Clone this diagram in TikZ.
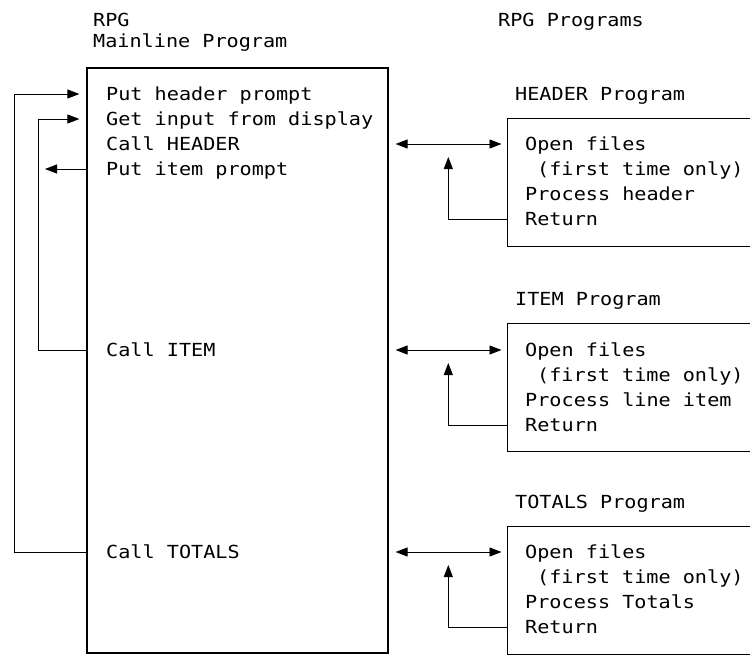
\documentclass[tikz,border=0pt]{standalone}
\usepackage{fontspec}
\setmonofont[FakeStretch=1.12]{DejaVu Sans Mono}
\usetikzlibrary{arrows.meta}
\begin{document}
\begin{tikzpicture}[x=1pt,y=-1pt,
  txt/.style={anchor=base west,inner sep=0pt,font=\ttfamily\fontsize{18}{22}\selectfont},
  box/.style={draw,line width=1.2pt,inner sep=0pt},
  con/.style={line width=0.9pt},
  tip/.tip={Triangle[length=12pt,width=9pt]},
  arr/.style={con,-tip},
  darr/.style={con,tip-tip}]
\clip (0,0) rectangle (750,656);
% boxes
\node[box,minimum width=301pt,minimum height=585pt] (main) at (237.5,360.5) {};
\node[box,minimum width=260pt,minimum height=127.5pt,anchor=north west] (hbox) at (507,118) {};
\node[box,minimum width=260pt,minimum height=127.5pt,anchor=north west] (ibox) at (507,323) {};
\node[box,minimum width=260pt,minimum height=127.5pt,anchor=north west] (tbox) at (507,526) {};
% headings
\node[txt] (rpg) at (93,26) {RPG};
\node[txt] (mainline) at (93,47) {Mainline Program};
\node[txt] (rpgprogs) at (498,26) {RPG Programs};
% mainline text
\node[txt] (m1) at (106,100) {Put header prompt};
\node[txt] (m2) at (106,125) {Get input from display};
\node[txt] (m3) at (106,150) {Call HEADER};
\node[txt] (m4) at (106,175) {Put item prompt};
\node[txt] (m5) at (106,356) {Call ITEM};
\node[txt] (m6) at (106,558) {Call TOTALS};
% right titles
\node[txt] (ht) at (515,100) {HEADER Program};
\node[txt] (it) at (515,305) {ITEM Program};
\node[txt] (tt) at (515,508) {TOTALS Program};
% HEADER box text
\node[txt] (h1) at (525,150) {Open files};
\node[txt] (h2) at (537,175) {(first time only)};
\node[txt] (h3) at (525,200) {Process header};
\node[txt] (h4) at (525,225) {Return};
% ITEM box text
\node[txt] (i1) at (525,356) {Open files};
\node[txt] (i2) at (537,381) {(first time only)};
\node[txt] (i3) at (525,406) {Process line item};
\node[txt] (i4) at (525,431) {Return};
% TOTALS box text
\node[txt] (t1) at (525,558) {Open files};
\node[txt] (t2) at (537,583) {(first time only)};
\node[txt] (t3) at (525,608) {Process Totals};
\node[txt] (t4) at (525,633) {Return};
% connector coordinates
\coordinate (L1) at (main.west |- 0,94);
\coordinate (L2) at (main.west |- 0,119);
\coordinate (L3) at (main.west |- 0,169);
\coordinate (L4) at (main.west |- 0,350);
\coordinate (L5) at (main.west |- 0,552);
\coordinate (pitem) at (45,169);
\coordinate (R1) at (main.east |- 0,144);
\coordinate (R2) at (main.east |- 0,350);
\coordinate (R3) at (main.east |- 0,552);
\coordinate (H1) at (hbox.west |- 0,144);
\coordinate (I1) at (ibox.west |- 0,350);
\coordinate (T1) at (tbox.west |- 0,552);
\coordinate (H4) at (hbox.west |- 0,219.5);
\coordinate (I4) at (ibox.west |- 0,425);
\coordinate (T4) at (tbox.west |- 0,627);
\coordinate (Hup) at (448.3,157);
\coordinate (Iup) at (448.3,363);
\coordinate (Tup) at (448.3,565);
% left loops
\draw[arr,shorten >=7pt] (L5) -| (14,94) -- (L1);
\draw[arr,shorten >=7pt] (L4) -| (38,119) -- (L2);
\draw[arr] (L3) -- (pitem);
% calls
\draw[darr,shorten <=7pt,shorten >=5.5pt] (R1) -- (H1);
\draw[darr,shorten <=7pt,shorten >=5.5pt] (R2) -- (I1);
\draw[darr,shorten <=7pt,shorten >=5.5pt] (R3) -- (T1);
% returns
\draw[arr] (H4) -| (Hup);
\draw[arr] (I4) -| (Iup);
\draw[arr] (T4) -| (Tup);
\end{tikzpicture}
\end{document}
